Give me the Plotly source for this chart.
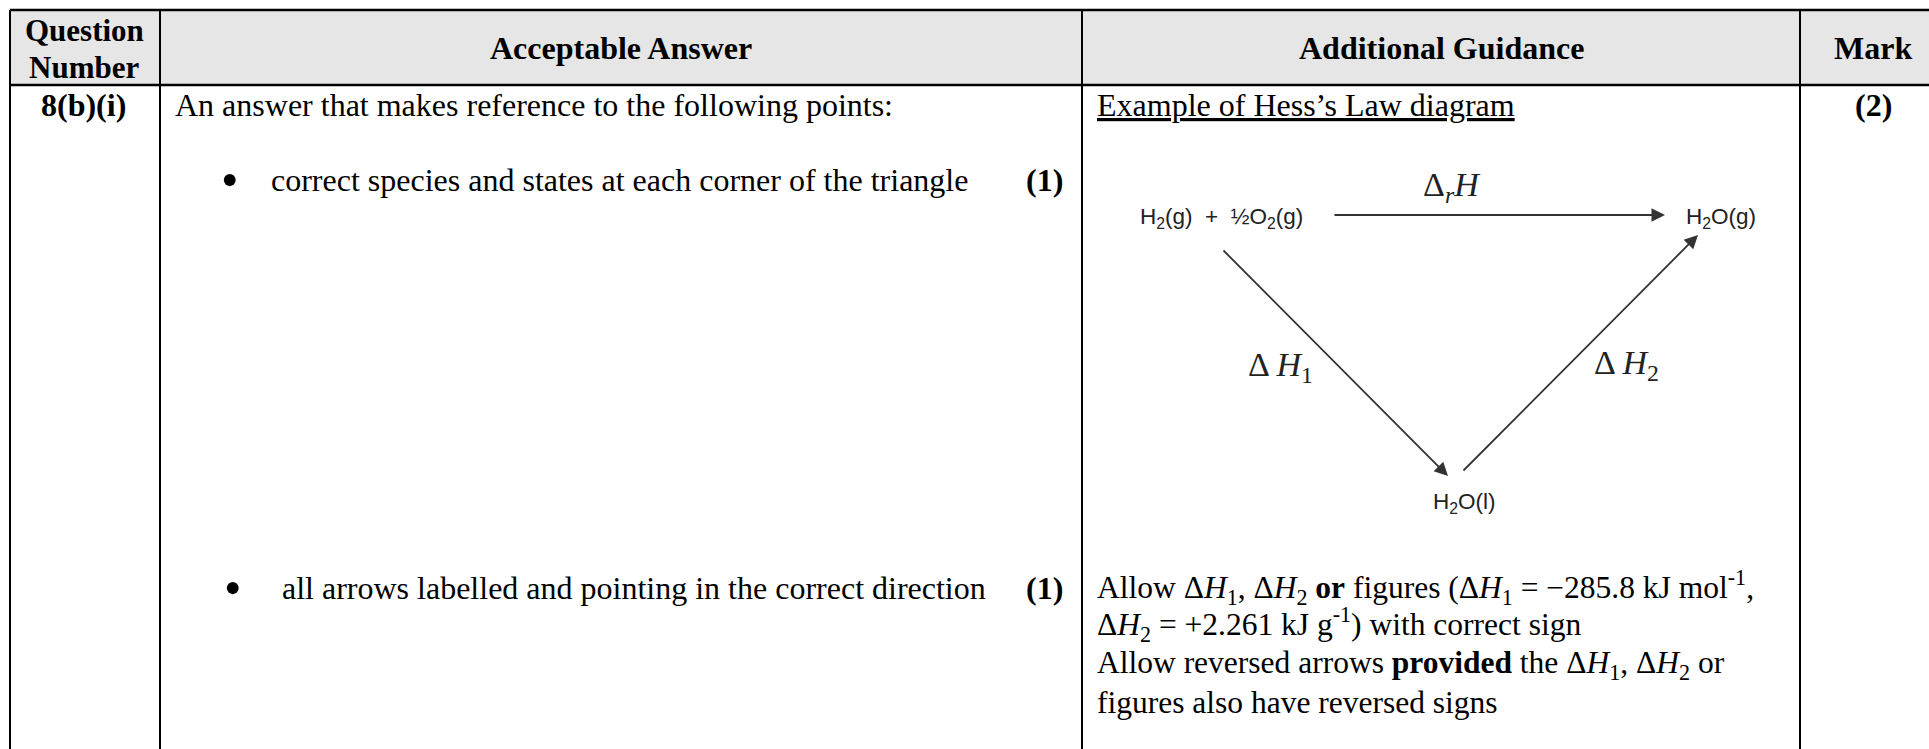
import plotly.graph_objects as go

# table text
header_labels = ['Question', 'Number', 'Acceptable Answer', 'Additional Guidance', 'Mark']
question_label = '8(b)(i)'
total_mark = '(2)'
answer_intro = 'An answer that makes reference to the following points:'
answer_points = ['correct species and states at each corner of the triangle',
                 'all arrows labelled and pointing in the correct direction']
point_marks = ['(1)', '(1)']
guidance_title = 'Example of Hess’s Law diagram'
guidance_lines = ['Allow Δ<i>H</i><sub>1</sub>, Δ<i>H</i><sub>2</sub> <b>or</b> figures (Δ<i>H</i><sub>1</sub> = −285.8 kJ mol<sup>-1</sup>,',
                  'Δ<i>H</i><sub>2</sub> = +2.261 kJ g<sup>-1</sup>) with correct sign',
                  'Allow reversed arrows <b>provided</b> the Δ<i>H</i><sub>1</sub>, Δ<i>H</i><sub>2</sub> or',
                  'figures also have reversed signs']

# diagram text
species = ['H<sub>2</sub>(g)  +  ½O<sub>2</sub>(g)', 'H<sub>2</sub>O(g)', 'H<sub>2</sub>O(l)']
arrow_labels = ['Δ<sub><i>r</i></sub><i>H</i>', 'Δ <i>H</i><sub>1</sub>', 'Δ <i>H</i><sub>2</sub>']

# page layout, in pixels
W, H = 1929, 749
col_x = [10, 160, 1082, 1800]
row_y = [10, 85]
header_x = [84, 84, 621, 1441, 1873]
header_y = [30, 67, 48, 48, 48]
point_y = [180, 588]
point_text_x = [269, 280]
point_bullet_x = [230, 233]
point_mark_x = [1024, 1024]
guidance_y = [587, 624, 665, 702]
species_x = [1138, 1684, 1431]
species_y = [218, 218, 503]
label_x = [1421, 1246, 1592]
label_y = [187, 367, 365]
arrow_from_x = [1333, 1222, 1462]
arrow_from_y = [215, 249, 472]
arrow_to_x = [1665, 1448, 1698]
arrow_to_y = [215, 476, 235]

SERIF = 'Liberation Serif'
SANS = 'Liberation Sans'
TEXT_SIZE = 32

fig = go.Figure()

# header band
fig.add_trace(go.Scatter(x=[col_x[0], W, W, col_x[0], col_x[0]],
                         y=[row_y[0], row_y[0], row_y[1], row_y[1], row_y[0]],
                         mode='lines', fill='toself', fillcolor='#e6e6e6',
                         line=dict(width=0), hoverinfo='skip', showlegend=False))

# rules
for y in row_y:
    fig.add_trace(go.Scatter(x=[col_x[0], W], y=[y, y], mode='lines',
                             line=dict(color='black', width=2.5), hoverinfo='skip', showlegend=False))
for x in col_x:
    fig.add_trace(go.Scatter(x=[x, x], y=[row_y[0], H], mode='lines',
                             line=dict(color='black', width=2), hoverinfo='skip', showlegend=False))


def put(x, y, text, anchor='left', size=TEXT_SIZE, family=SERIF, color='black'):
    fig.add_annotation(x=x, y=y, text=text, showarrow=False, xanchor=anchor, yanchor='middle',
                       font=dict(family=family, size=size, color=color), xref='x', yref='y')


for x, y, label in zip(header_x, header_y, header_labels):
    put(x, y, '<b>' + label + '</b>', anchor='center', size=31 if y != 48 else 32)

put(header_x[0] - 1, 105, '<b>' + question_label + '</b>', anchor='center')
put(col_x[1] + 13, 105, answer_intro)
put(col_x[2] + 13, 105, '<u>' + guidance_title + '</u>')
put(header_x[4], 105, '<b>' + total_mark + '</b>', anchor='center')

for i in range(len(answer_points)):
    put(point_bullet_x[i], point_y[i], '•', anchor='center', size=50)
    put(point_text_x[i], point_y[i], answer_points[i])
    put(point_mark_x[i], point_y[i], '<b>' + point_marks[i] + '</b>')

for y, line in zip(guidance_y, guidance_lines):
    put(col_x[2] + 13, y, line, size=31.5)

# Hess cycle
for i in range(3):
    fig.add_annotation(x=arrow_to_x[i], y=arrow_to_y[i], ax=arrow_from_x[i], ay=arrow_from_y[i],
                       xref='x', yref='y', axref='x', ayref='y', text='', showarrow=True,
                       arrowhead=2, arrowsize=1.5, arrowwidth=1.8, arrowcolor='#333333')
    put(species_x[i], species_y[i], species[i], size=22.5, family=SANS, color='#222222')
    put(label_x[i], label_y[i], arrow_labels[i], size=34, color='#222222')

fig.update_xaxes(range=[0, W], visible=False, fixedrange=True)
fig.update_yaxes(range=[H, 0], visible=False, fixedrange=True)
fig.update_layout(width=W, height=H, margin=dict(l=0, r=0, t=0, b=0),
                  paper_bgcolor='white', plot_bgcolor='white', showlegend=False)

fig.write_html("out.html", config={'displayModeBar': False},
               post_script="document.body.style.margin='0';document.body.style.overflow='hidden';")
